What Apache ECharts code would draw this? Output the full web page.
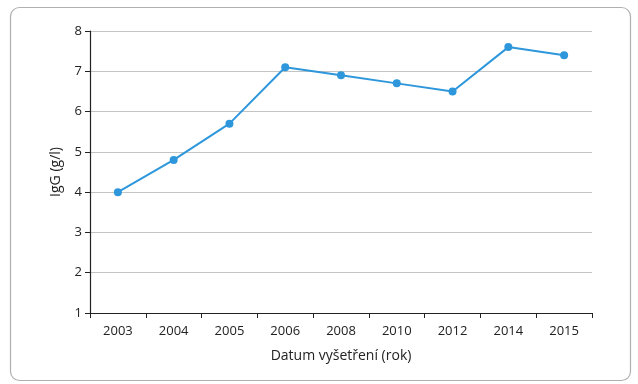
<!DOCTYPE html>
<html><head><meta charset="utf-8">
<script src="https://cdn.jsdelivr.net/npm/echarts@6/dist/echarts.min.js"></script>
<style>html,body{margin:0;padding:0;background:#fff}#c{width:638px;height:384px}</style>
</head><body><div id="c"></div>
<script>
const categories = ['2003','2004','2005','2006','2008','2010','2012','2014','2015'];
const igg = [4.0, 4.8, 5.7, 7.1, 6.9, 6.7, 6.5, 7.6, 7.4];
const yTicks = [1,2,3,4,5,6,7,8];
const FONT = 'Open Sans';
const chart = echarts.init(document.getElementById('c'), null, {renderer:'canvas'});
chart.setOption({
  animation:false,
  textStyle:{fontFamily:FONT},
  graphic:[{type:'rect',shape:{x:10.5,y:7.5,width:620,height:373,r:9},style:{fill:'none',stroke:'#b0b0b0',lineWidth:1.2},z:-1}],
  grid:{left:90,right:46,top:31,bottom:71},
  xAxis:{type:'category',data:categories,boundaryGap:true,
    axisLine:{lineStyle:{color:'#222',width:1.2}},
    axisTick:{show:true,length:5,lineStyle:{color:'#222'}},
    axisLabel:{color:'#222',fontSize:13,margin:12,fontFamily:FONT},
    name:'Datum vyšetření (rok)',nameLocation:'middle',nameGap:36,
    nameTextStyle:{color:'#222',fontSize:14,fontFamily:FONT}},
  yAxis:{type:'value',min:yTicks[0],max:yTicks[yTicks.length-1],interval:1,
    axisLine:{show:true,lineStyle:{color:'#222',width:1.2}},
    axisTick:{show:true,length:5,lineStyle:{color:'#222'}},
    axisLabel:{color:'#222',fontSize:13,margin:8,fontFamily:FONT},
    splitLine:{lineStyle:{color:'#c4c4c4',width:1}},
    name:'IgG (g/l)',nameLocation:'middle',nameGap:27,nameRotate:90,
    nameTextStyle:{color:'#222',fontSize:14,fontFamily:FONT}},
  series:[{type:'line',data:igg,symbol:'circle',symbolSize:8,
    lineStyle:{color:'#2e97dc',width:2},itemStyle:{color:'#2e97dc'}}]
});
</script></body></html>
